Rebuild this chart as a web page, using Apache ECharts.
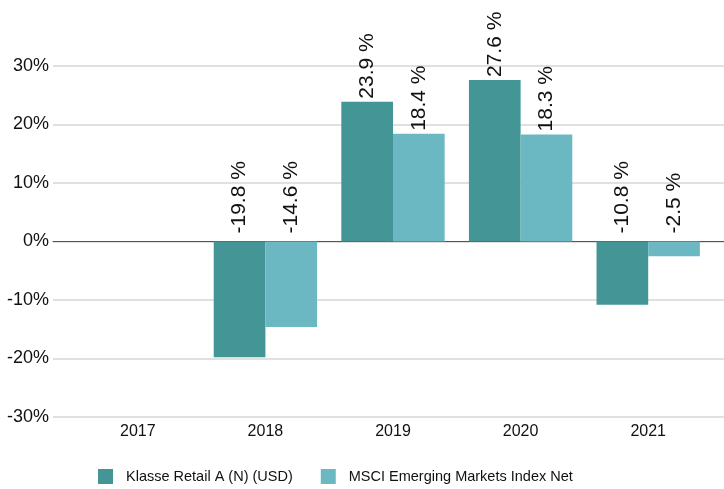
<!DOCTYPE html>
<html><head><meta charset="utf-8">
<script src="https://cdn.jsdelivr.net/npm/echarts@6/dist/echarts.min.js"></script>
<style>html,body{margin:0;padding:0;background:#fff}#c{width:724px;height:489px}</style>
</head><body><div id="c"></div>
<script>
const categories = ['2017', '2018', '2019', '2020', '2021'];
const fundName = 'Klasse Retail A (N) (USD)';
const indexName = 'MSCI Emerging Markets Index Net';
const fundValues = [null, -19.8, 23.9, 27.6, -10.8];
const indexValues = [null, -14.6, 18.4, 18.3, -2.5];
const yTicks = [-30, -20, -10, 0, 10, 20, 30];

const FONT = 'Liberation Sans, Arial, sans-serif';
const chart = echarts.init(document.getElementById('c'));
function mk(vals) {
  return vals.map(v => v == null ? null : {
    value: v,
    label: { distance: v < 0 ? 8 : 3 }
  });
}
const labelCfg = {
  show: true, position: 'top', rotate: 90, align: 'left', verticalAlign: 'middle',
  fontSize: 21, color: '#111', fontFamily: FONT,
  formatter: p => p.value.toFixed(1) + ' %'
};
chart.setOption({
  animation: false,
  grid: [
    { left: 74, right: 12, top: 66, bottom: 72 },
    { left: 53, right: 0, top: 66, bottom: 72 }
  ],
  xAxis: [
    { type: 'category', gridIndex: 0, data: categories,
      axisLine: { show: false }, axisTick: { show: false },
      axisLabel: { fontSize: 16, color: '#111', fontFamily: FONT, margin: 7 } },
    { type: 'category', gridIndex: 1, data: categories,
      axisLine: { show: true, onZero: true, lineStyle: { color: '#555', width: 1 } },
      axisTick: { show: false }, axisLabel: { show: false } }
  ],
  yAxis: [
    { type: 'value', gridIndex: 0, min: yTicks[0], max: yTicks[yTicks.length - 1], interval: 10,
      axisLabel: { show: false }, splitLine: { show: false }, axisLine: { show: false }, axisTick: { show: false } },
    { type: 'value', gridIndex: 1, min: yTicks[0], max: yTicks[yTicks.length - 1], interval: 10,
      axisLine: { show: false }, axisTick: { show: false },
      axisLabel: { fontSize: 18, color: '#111', fontFamily: FONT, margin: 4, formatter: v => v + '%' },
      splitLine: { show: true, lineStyle: { color: '#e0e0e0', width: 2 } } }
  ],
  legend: {
    bottom: 0, left: 93, itemWidth: 15, itemHeight: 15, itemGap: 28,
    icon: 'rect',
    textStyle: { fontSize: 14.5, color: '#111', fontFamily: FONT, padding: [0, 0, 0, 8] },
    data: [fundName, indexName]
  },
  series: [
    { type: 'line', xAxisIndex: 1, yAxisIndex: 1, data: [], silent: true },
    { name: fundName, type: 'bar', xAxisIndex: 0, yAxisIndex: 0, data: mk(fundValues),
      barGap: '0%', barCategoryGap: '19%', itemStyle: { color: '#439596' }, label: labelCfg, z: 3 },
    { name: indexName, type: 'bar', xAxisIndex: 0, yAxisIndex: 0, data: mk(indexValues),
      itemStyle: { color: '#6bb8c2' }, label: labelCfg, z: 3 }
  ]
});
</script></body></html>
